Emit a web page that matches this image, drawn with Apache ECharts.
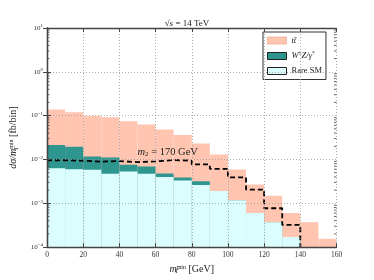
<!DOCTYPE html>
<html><head><meta charset="utf-8">
<script src="https://cdn.jsdelivr.net/npm/echarts@6/dist/echarts.min.js"></script>
<style>html,body{margin:0;padding:0;background:#fff}#c{width:374px;height:280px}</style>
</head><body><div id="c"></div>
<script>
// bins: 10 GeV wide, left edges
const binStart = [0,10,20,30,40,50,60,70,80,90,100,110,120,130,140,150];
// cumulative (stacked) heights, fb/bin
const ttbarTop = [0.138,0.12,0.10,0.092,0.074,0.063,0.048,0.036,0.023,0.013,0.0059,0.0027,0.00148,0.0006,0.00037,0.000155];
const wzTop    = [0.0213,0.0195,0.0117,0.0111,0.0076,0.0069,0.0048,0.0039,0.0032,0.0019,0.00117,0.0006,0.00037,0.00017,0,0];
const rareTop  = [0.0063,0.0060,0.0058,0.0047,0.0053,0.0047,0.0040,0.0033,0.0026,0.0019,0.00117,0.0006,0.00037,0.00017,0,0];
// signal m2 = 170 GeV (dashed step)
const sigBin   = [0,10,20,30,40,50,60,70,80,90,100,110,120,130,140];
const sigVal   = [0.0096,0.0094,0.0089,0.0092,0.0087,0.0090,0.0097,0.0094,0.0077,0.0061,0.0039,0.00205,0.00077,0.00032,0.0001];
const xTicks = [0,20,40,60,80,100,120,140,160];
const yMin = 1e-4, yMax = 10;
const minorVals = [];
for (let e=-4; e<1; e++) for (let k=2; k<10; k++) minorVals.push(k*Math.pow(10,e));

const serif = '"Liberation Serif","DejaVu Serif",serif';
const C_TT = '#ffc5b0', C_WZ = '#2f968f', C_RARE = '#dcfdfd';

function hist(name, vals, color) {
  return {
    type:'custom', name, clip:true, z:2,
    itemStyle:{color},
    data: binStart.map((x,i)=>[x, x+10, vals[i]]),
    encode:{x:[0,1], y:2},
    renderItem:(params, api)=>{
      const v = api.value(2);
      if (!(v>0)) return null;
      const p0 = api.coord([api.value(0), v]);
      const p1 = api.coord([api.value(1), yMin]);
      return {type:'rect', shape:{x:p0[0], y:p0[1], width:p1[0]-p0[0], height:p1[1]-p0[1]}, style:{fill:color}};
    }
  };
}

const nameRich = {
  i:{fontSize:10, fontFamily:serif, fontStyle:'italic', color:'#222'},
  sb:{fontSize:6.5, fontFamily:serif, fontStyle:'italic', color:'#222', width:0, verticalAlign:'top', padding:[5,0,0,0]},
  sp:{fontSize:6, fontFamily:serif, color:'#222', verticalAlign:'bottom', padding:[0,0,5,0]},
  r:{fontSize:10, fontFamily:serif, color:'#222'}
};

const chart = echarts.init(document.getElementById('c'), null, {renderer:'canvas'});
const axisLine = {show:true, lineStyle:{color:'#444', width:1.3}};
chart.setOption({
  animation:false,
  title:{text:'{r|√}{i|s}{r| = 14 TeV}', left:'center', top:14,
    textStyle:{fontWeight:'normal', rich:{r:{fontSize:9, fontFamily:serif, color:'#222', fontWeight:'normal'}, i:{fontSize:9, fontFamily:serif, fontStyle:'italic', color:'#222', fontWeight:'normal'}}}},
  grid:{left:47, right:37.5, top:28, bottom:28.5},
  legend:{
    left:263, top:32, orient:'vertical', itemWidth:19, itemHeight:7, itemGap:6,
    padding:[4,4,4,4], borderColor:'#333', borderWidth:1, backgroundColor:'#fff',
    icon:'rect', selectedMode:false,
    data:[
      {name:'tt', itemStyle:{color:C_TT, borderColor:'#f2b8a3', borderWidth:1}},
      {name:'wz', itemStyle:{color:C_WZ, borderColor:'#222', borderWidth:1}},
      {name:'rare', itemStyle:{color:C_RARE, borderColor:'#222', borderWidth:1}}
    ],
    formatter:(n)=> n==='tt' ? '{i|tt\u0304}' : n==='wz' ? '{i|W}{s|±}{i|Z/γ}{s|*}' : '{r|Rare SM}',
    textStyle:{rich:{
      i:{fontSize:8.5, fontFamily:serif, fontStyle:'italic', color:'#222'},
      r:{fontSize:8.5, fontFamily:serif, color:'#222'},
      s:{fontSize:5.5, fontFamily:serif, color:'#222', verticalAlign:'bottom', padding:[0,0,4,0]}
    }}
  },
  xAxis:[
    {type:'value', min:0, max:160, interval:20, position:'bottom', z:10,
     axisLine, axisTick:{show:true, inside:true, length:4, lineStyle:{color:'#444'}},
     splitLine:{show:true, lineStyle:{color:'#999', type:[1,2], width:0.8}},
     axisLabel:{fontSize:7.5, fontFamily:serif, color:'#333', margin:4,
       formatter:(v)=> xTicks.includes(v) ? String(v) : ''},
     name:'{i|m}{sb|T}{sp|min}{r| [GeV]}', nameLocation:'middle', nameGap:14,
     nameTextStyle:{rich:nameRich}},
    {type:'value', min:0, max:160, interval:20, position:'top', z:10,
     axisLine, axisTick:{show:true, inside:true, length:4, lineStyle:{color:'#444'}},
     splitLine:{show:false}, axisLabel:{show:false}}
  ],
  yAxis:[
    {type:'log', logBase:10, min:yMin, max:yMax, position:'left', z:10,
     axisLine, axisTick:{show:true, inside:true, length:4, lineStyle:{color:'#444'}},
     splitLine:{show:true, lineStyle:{color:'#999', type:[1,2], width:0.8}},
     axisLabel:{margin:4, formatter:(v)=>{const e=Math.round(Math.log10(v)); return '{b|10}{s|'+(e<0?'−'+(-e):e)+'}';},
       rich:{b:{fontSize:7, fontFamily:serif, color:'#333'}, s:{fontSize:5, fontFamily:serif, color:'#333', verticalAlign:'bottom', padding:[0,0,4,0]}}},
     name:'{i|dσ/m}{sb|T}{sp|min}{r| [fb/bin]}', nameLocation:'middle', nameGap:24, nameRotate:90,
     nameTextStyle:{rich:nameRich}},
    {type:'log', logBase:10, min:yMin, max:yMax, position:'right', z:10,
     axisLine, axisTick:{show:true, inside:true, length:4, lineStyle:{color:'#444'}},
     splitLine:{show:false}, axisLabel:{show:false}}
  ],
  series:[
    hist('tt', ttbarTop, C_TT),
    hist('wz', wzTop, C_WZ),
    hist('rare', rareTop, C_RARE),
    {type:'line', name:'sig', step:'end', symbol:'none', z:4, clip:true,
     data: sigBin.map((x,i)=>[x, sigVal[i]]),
     lineStyle:{color:'#000', width:1.8, type:[5,3]}},
    {type:'custom', name:'minor', z:11, silent:true, clip:false,
     data: minorVals.map(v=>[v]), encode:{y:0},
     renderItem:(p, api)=>{
       const v = api.value(0);
       const a = api.coord([0, v]), b = api.coord([160, v]);
       return {type:'group', children:[
         {type:'line', shape:{x1:a[0], y1:a[1], x2:a[0]+2.5, y2:a[1]}, style:{stroke:'#444', lineWidth:0.8}},
         {type:'line', shape:{x1:b[0], y1:b[1], x2:b[0]-2.5, y2:b[1]}, style:{stroke:'#444', lineWidth:0.8}}
       ]};
     }},
    {type:'custom', name:'note', z:12, silent:true,
     data:[[50, 0.0149]],
     renderItem:(p, api)=>{
       const c = api.coord([api.value(0), api.value(1)]);
       return {type:'text', x:c[0], y:c[1], style:{
         text:'{i|m}{s|2}{r| = 170 GeV}', verticalAlign:'middle', align:'left',
         rich:{i:{fontSize:10.5, fontFamily:serif, fontStyle:'italic', fill:'#222'},
               s:{fontSize:7, fontFamily:serif, fill:'#222', verticalAlign:'top', padding:[5,0,0,0]},
               r:{fontSize:10.5, fontFamily:serif, fill:'#222'}}}};
     }}
  ]
});
</script></body></html>
